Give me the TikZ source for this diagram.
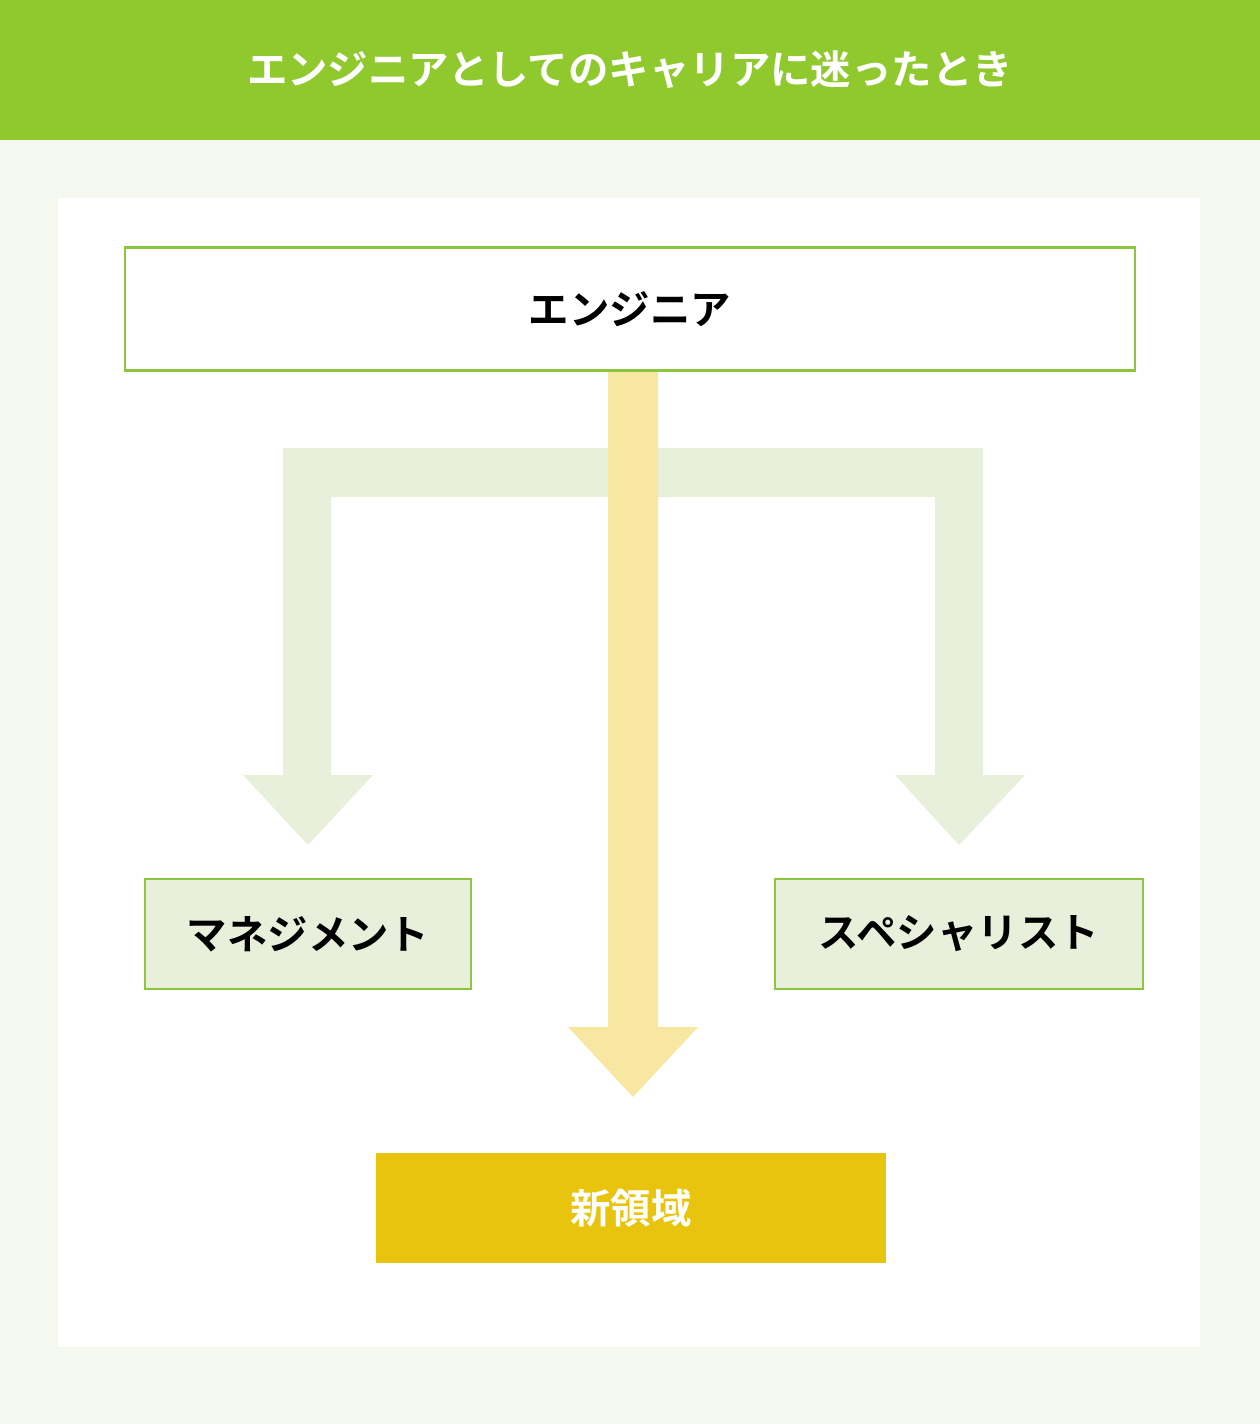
\documentclass[tikz,border=0pt]{standalone}
\usepackage{fontspec}
\setmainfont{Noto Sans CJK JP}
\newfontfamily\jpbold{Noto Sans CJK JP Bold}
\usetikzlibrary{positioning}
\definecolor{hdgreen}{HTML}{8FC92E}
\definecolor{bggreen}{HTML}{F5F8EE}
\definecolor{boxline}{HTML}{8CC63F}
\definecolor{palegreen}{HTML}{E8EFDA}
\definecolor{paleyellow}{HTML}{F8E7A1}
\definecolor{gold}{HTML}{E8C40E}
\tikzset{
  careerbox/.style={draw=boxline,line width=1.2pt,minimum height=2.2cm,font=\jpbold\fontsize{23}{26}\selectfont},
}
\begin{document}
\begin{tikzpicture}[x=0.02cm,y=-0.02cm]
  \useasboundingbox (0,0) rectangle (1260,1424);
  \fill[bggreen] (0,0) rectangle (1260,1424);
  \fill[hdgreen] (0,0) rectangle (1260,140);
  \fill[white] (58,198) rectangle (1200,1347);
  \node[text=white,font=\jpbold\fontsize{23}{26}\selectfont] (title) at (630,70) {エンジニアとしてのキャリアに迷ったとき};

  % Branch arrows
  \fill[palegreen] (283,448) -- (983,448) -- (983,775) -- (1025,775) -- (959,845)
    -- (895,775) -- (935,775) -- (935,497) -- (331,497) -- (331,775) -- (373,775)
    -- (308,845) -- (243,775) -- (283,775) -- cycle;

  % Straight arrow
  \fill[paleyellow] (608,372) -- (658,372) -- (658,1027) -- (698,1027) -- (633,1097)
    -- (568,1027) -- (608,1027) -- cycle;

  % Boxes
  \node[careerbox,fill=white,minimum width=20.2cm,minimum height=2.46cm] (engineer) at (630,309) {エンジニア};
  \node[careerbox,fill=palegreen,minimum width=6.52cm] (manage) at (308,934) {マネジメント};
  \node[careerbox,fill=palegreen,minimum width=7.36cm] (special) at (959,934) {スペシャリスト};
  \node[careerbox,draw=none,fill=gold,text=white,minimum width=10.2cm] (newfield) at (631,1208) {新領域};
\end{tikzpicture}
\end{document}
